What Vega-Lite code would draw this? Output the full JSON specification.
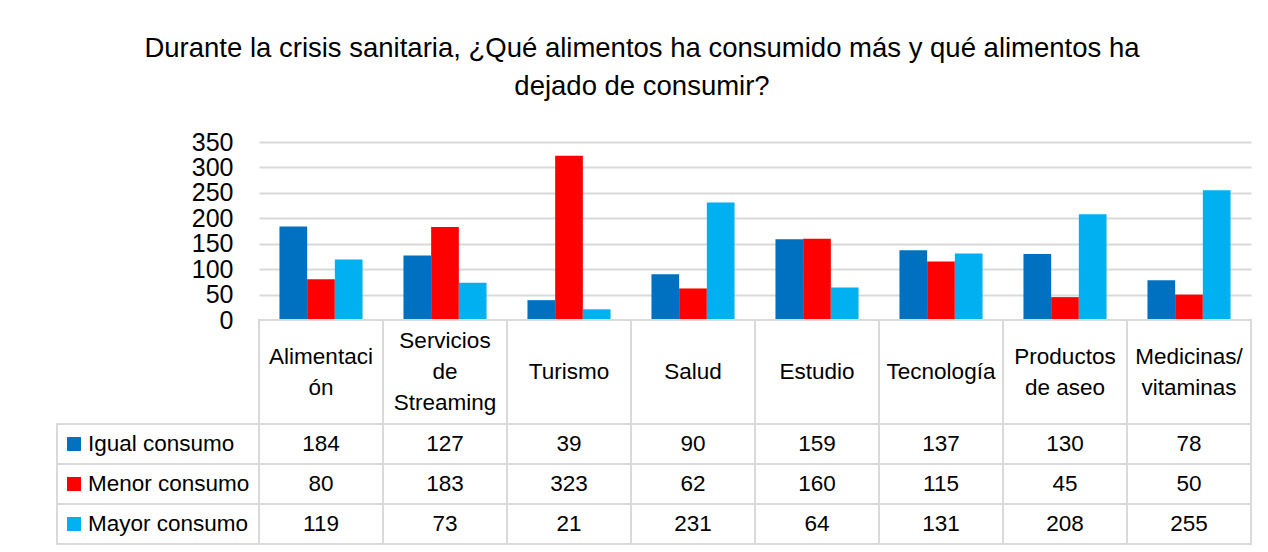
{
  "$schema": "https://vega.github.io/schema/vega-lite/v6.json",
  "padding": {"left": 56, "right": 18, "top": 34, "bottom": 8},
  "background": "white",
  "title": {
    "text": ["Durante la crisis sanitaria, ¿Qué alimentos ha consumido más y qué alimentos ha", "dejado de consumir?"],
    "font": "Liberation Sans",
    "fontSize": 27.5, "fontWeight": "normal", "lineHeight": 38, "color": "black",
    "anchor": "middle", "offset": 30, "dx": -12
  },
  "config": {
    "view": {"stroke": null},
    "font": "Liberation Sans"
  },
  "datasets": {
    "d": [
      {"categoria": "Alimentación", "serie": "Igual consumo", "valor": 184},
      {"categoria": "Alimentación", "serie": "Menor consumo", "valor": 80},
      {"categoria": "Alimentación", "serie": "Mayor consumo", "valor": 119},
      {"categoria": "Servicios de Streaming", "serie": "Igual consumo", "valor": 127},
      {"categoria": "Servicios de Streaming", "serie": "Menor consumo", "valor": 183},
      {"categoria": "Servicios de Streaming", "serie": "Mayor consumo", "valor": 73},
      {"categoria": "Turismo", "serie": "Igual consumo", "valor": 39},
      {"categoria": "Turismo", "serie": "Menor consumo", "valor": 323},
      {"categoria": "Turismo", "serie": "Mayor consumo", "valor": 21},
      {"categoria": "Salud", "serie": "Igual consumo", "valor": 90},
      {"categoria": "Salud", "serie": "Menor consumo", "valor": 62},
      {"categoria": "Salud", "serie": "Mayor consumo", "valor": 231},
      {"categoria": "Estudio", "serie": "Igual consumo", "valor": 159},
      {"categoria": "Estudio", "serie": "Menor consumo", "valor": 160},
      {"categoria": "Estudio", "serie": "Mayor consumo", "valor": 64},
      {"categoria": "Tecnología", "serie": "Igual consumo", "valor": 137},
      {"categoria": "Tecnología", "serie": "Menor consumo", "valor": 115},
      {"categoria": "Tecnología", "serie": "Mayor consumo", "valor": 131},
      {"categoria": "Productos de aseo", "serie": "Igual consumo", "valor": 130},
      {"categoria": "Productos de aseo", "serie": "Menor consumo", "valor": 45},
      {"categoria": "Productos de aseo", "serie": "Mayor consumo", "valor": 208},
      {"categoria": "Medicinas/ vitaminas", "serie": "Igual consumo", "valor": 78},
      {"categoria": "Medicinas/ vitaminas", "serie": "Menor consumo", "valor": 50},
      {"categoria": "Medicinas/ vitaminas", "serie": "Mayor consumo", "valor": 255}
    ],
    "cats": [
      {"categoria": "Alimentación", "etiqueta": "Alimentaci\nón"},
      {"categoria": "Servicios de Streaming", "etiqueta": "Servicios\nde\nStreaming"},
      {"categoria": "Turismo", "etiqueta": "Turismo"},
      {"categoria": "Salud", "etiqueta": "Salud"},
      {"categoria": "Estudio", "etiqueta": "Estudio"},
      {"categoria": "Tecnología", "etiqueta": "Tecnología"},
      {"categoria": "Productos de aseo", "etiqueta": "Productos\nde aseo"},
      {"categoria": "Medicinas/ vitaminas", "etiqueta": "Medicinas/\nvitaminas"}
    ],
    "series": [
      {"serie": "Igual consumo"},
      {"serie": "Menor consumo"},
      {"serie": "Mayor consumo"}
    ]
  },
  "columns": 2,
  "spacing": 0,
  "bounds": "flush",
  "align": "each",
  "concat": [
    {
      "width": 202, "height": 178,
      "data": {"values": []},
      "mark": {"type": "point", "opacity": 0},
      "encoding": {}
    },
    {
      "width": 992, "height": 178,
      "data": {"name": "d"},
      "mark": {"type": "bar"},
      "encoding": {
        "x": {
          "field": "categoria", "type": "nominal",
          "sort": ["Alimentación", "Servicios de Streaming", "Turismo", "Salud", "Estudio", "Tecnología", "Productos de aseo", "Medicinas/ vitaminas"],
          "scale": {"paddingInner": 0.33, "paddingOuter": 0.165},
          "axis": null
        },
        "xOffset": {
          "field": "serie", "type": "nominal",
          "sort": ["Igual consumo", "Menor consumo", "Mayor consumo"],
          "scale": {"paddingInner": 0, "paddingOuter": 0}
        },
        "y": {
          "field": "valor", "type": "quantitative",
          "scale": {"domain": [0, 350], "nice": false},
          "axis": {
            "values": [0, 50, 100, 150, 200, 250, 300, 350],
            "grid": true, "gridColor": "#d9d9d9", "gridWidth": 2,
            "domain": false, "ticks": false,
            "labelFontSize": 25, "labelPadding": 26, "labelColor": "black",
            "labelOverlap": false, "labelBound": false, "labelFlush": false,
            "title": null
          }
        },
        "color": {
          "field": "serie", "type": "nominal",
          "scale": {"domain": ["Igual consumo", "Menor consumo", "Mayor consumo"], "range": ["#0070C0", "#FF0000", "#00B0F0"]},
          "legend": null
        }
      }
    },
    {
      "width": 202, "height": 104,
      "data": {"values": []},
      "mark": {"type": "point", "opacity": 0},
      "encoding": {}
    },
    {
      "width": 992, "height": 104,
      "data": {"name": "cats"},
      "encoding": {
        "x": {
          "field": "categoria", "type": "nominal",
          "sort": ["Alimentación", "Servicios de Streaming", "Turismo", "Salud", "Estudio", "Tecnología", "Productos de aseo", "Medicinas/ vitaminas"],
          "scale": {"paddingInner": 0, "paddingOuter": 0},
          "axis": null
        }
      },
      "layer": [
        {
          "mark": {"type": "rect", "fill": "white", "stroke": "#d9d9d9", "strokeWidth": 2},
          "encoding": {"y": {"value": 0}, "y2": {"value": "height"}}
        },
        {
          "transform": [{"calculate": "length(split(datum.etiqueta, '\\n'))", "as": "lineas"}],
          "mark": {"type": "text", "fontSize": 22.5, "lineHeight": 31, "lineBreak": "\n", "baseline": "middle", "color": "black"},
          "encoding": {
            "text": {"field": "etiqueta"},
            "y": {"field": "lineas", "type": "quantitative", "scale": {"domain": [1, 3], "range": [52, 21]}, "axis": null}
          }
        }
      ]
    },
    {
      "width": 202, "height": 120,
      "data": {"name": "series"},
      "encoding": {
        "y": {
          "field": "serie", "type": "nominal",
          "sort": ["Igual consumo", "Menor consumo", "Mayor consumo"],
          "scale": {"paddingInner": 0, "paddingOuter": 0},
          "axis": null
        }
      },
      "layer": [
        {
          "mark": {"type": "rect", "fill": "white", "stroke": "#d9d9d9", "strokeWidth": 2},
          "encoding": {"x": {"value": 0}, "x2": {"value": "width"}}
        },
        {
          "mark": {"type": "point", "shape": "square", "filled": true, "size": 196, "opacity": 1},
          "encoding": {
            "x": {"value": 17},
            "color": {
              "field": "serie", "type": "nominal",
              "scale": {"domain": ["Igual consumo", "Menor consumo", "Mayor consumo"], "range": ["#0070C0", "#FF0000", "#00B0F0"]},
              "legend": null
            }
          }
        },
        {
          "mark": {"type": "text", "fontSize": 22.5, "align": "left", "baseline": "middle", "color": "black"},
          "encoding": {"x": {"value": 31}, "text": {"field": "serie"}}
        }
      ]
    },
    {
      "width": 992, "height": 120,
      "data": {"name": "d"},
      "encoding": {
        "x": {
          "field": "categoria", "type": "nominal",
          "sort": ["Alimentación", "Servicios de Streaming", "Turismo", "Salud", "Estudio", "Tecnología", "Productos de aseo", "Medicinas/ vitaminas"],
          "scale": {"paddingInner": 0, "paddingOuter": 0},
          "axis": null
        },
        "y": {
          "field": "serie", "type": "nominal",
          "sort": ["Igual consumo", "Menor consumo", "Mayor consumo"],
          "scale": {"paddingInner": 0, "paddingOuter": 0},
          "axis": null
        }
      },
      "layer": [
        {
          "mark": {"type": "rect", "fill": "white", "stroke": "#d9d9d9", "strokeWidth": 2}
        },
        {
          "mark": {"type": "text", "fontSize": 22.5, "baseline": "middle", "color": "black"},
          "encoding": {"text": {"field": "valor", "type": "quantitative"}}
        }
      ]
    }
  ]
}
